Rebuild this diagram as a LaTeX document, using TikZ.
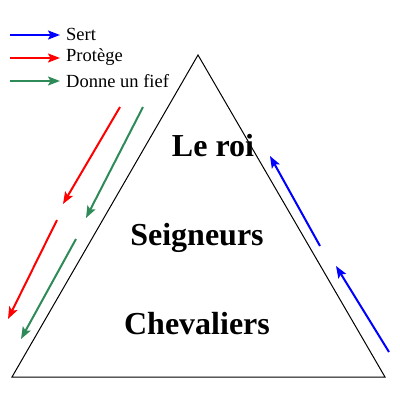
\documentclass[tikz,border=0pt]{standalone}
\usepackage{fontspec}
\setmainfont{Liberation Serif}
\usetikzlibrary{arrows.meta}
\definecolor{myblue}{RGB}{0,0,255}
\definecolor{myred}{RGB}{255,0,0}
\definecolor{mygreen}{RGB}{46,139,87}
\tikzset{
  arr/.style={line width=2pt, -{Stealth[length=12pt,width=9pt,inset=2.5pt]}},
  lbl/.style={anchor=west, inner sep=0pt, font=\fontsize{18.5}{18.5}\selectfont},
  big/.style={inner sep=0pt, font=\fontsize{32}{32}\selectfont\bfseries}
}
\begin{document}
\begin{tikzpicture}[x=1pt,y=-1pt]
\useasboundingbox (0,0) rectangle (400,400);
% triangle
\coordinate (A) at (198,55);
\coordinate (B) at (12,377);
\coordinate (C) at (385,377);
\draw[line width=1pt] (A) -- (B) -- (C) -- cycle;
% legend
\coordinate (l1s) at (10,35); \coordinate (l1e) at (60,35);
\coordinate (l2s) at (10,58); \coordinate (l2e) at (60,58);
\coordinate (l3s) at (10,81); \coordinate (l3e) at (60,81);
\draw[arr, myblue] (l1s) -- (l1e);
\draw[arr, myred] (l2s) -- (l2e);
\draw[arr, mygreen] (l3s) -- (l3e);
\node[lbl] (t1) at (66,34) {Sert};
\node[lbl] (t2) at (66,57) {Protège};
\node[lbl] (t3) at (66,81) {Donne un fief};
% labels
\node[big] (roi) at (213,146) {Le roi};
\node[big] (seig) at (197,238) {Seigneurs};
\node[big] (chev) at (197,324) {Chevaliers};
% red arrows
\coordinate (r1s) at (120,107); \coordinate (r1e) at (63,204);
\coordinate (r2s) at (57,220); \coordinate (r2e) at (8,319);
\draw[arr, myred] (r1s) -- (r1e);
\draw[arr, myred] (r2s) -- (r2e);
% green arrows
\coordinate (g1s) at (143,107); \coordinate (g1e) at (86,218);
\coordinate (g2s) at (76,239); \coordinate (g2e) at (21,339);
\draw[arr, mygreen] (g1s) -- (g1e);
\draw[arr, mygreen] (g2s) -- (g2e);
% blue arrows
\coordinate (b1s) at (320,246); \coordinate (b1e) at (270,156);
\coordinate (b2s) at (389,352); \coordinate (b2e) at (336,266);
\draw[arr, myblue] (b1s) -- (b1e);
\draw[arr, myblue] (b2s) -- (b2e);
\end{tikzpicture}
\end{document}
